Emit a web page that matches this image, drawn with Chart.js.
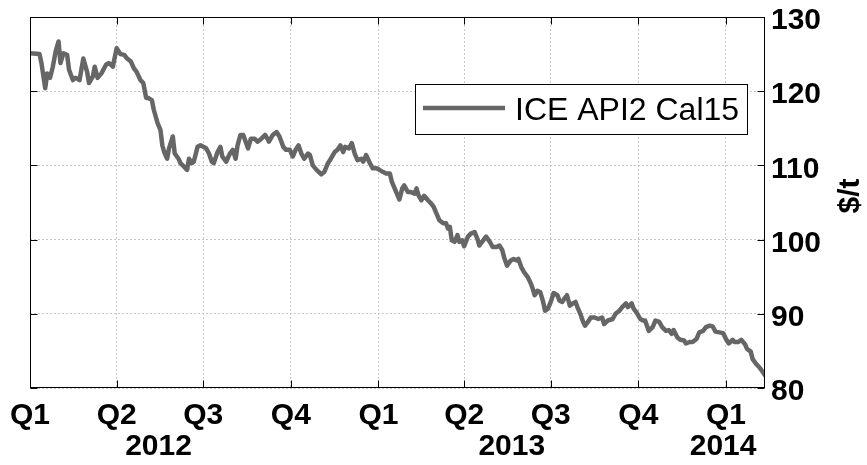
<!DOCTYPE html>
<html>
<head>
<meta charset="utf-8">
<script src="https://cdn.jsdelivr.net/npm/chart.js@4.4.1/dist/chart.umd.min.js"></script>
<style>
html,body{margin:0;padding:0;background:#fff;}
#wrap{width:867px;height:465px;}
</style>
</head>
<body>
<div id="wrap"><canvas id="c" width="867" height="465"></canvas></div>
<script>
// Days since 1 Jan 2012
const days = [0,10,12,16,18,21,24,27,30,32,35,39,41,45,48,52,56,60,62,66,68,71,75,80,83,87,91,95,99,102,106,109,112,116,119,122,124,128,130,134,137,139,141,144,146,150,152,156,158,162,165,167,170,172,176,179,185,188,191,193,197,200,202,206,210,213,216,218,221,224,229,232,236,239,243,247,251,255,259,262,266,269,273,276,279,282,285,288,292,294,297,301,306,309,313,316,320,323,326,329,331,335,338,341,344,348,350,353,357,360,364,367,371,374,378,380,383,386,388,391,393,397,400,404,406,408,411,414,418,421,424,427,430,434,437,439,441,443,446,449,451,454,456,460,463,467,470,472,476,479,483,486,490,493,496,498,501,505,508,511,513,516,519,523,526,528,530,533,536,539,541,544,547,550,554,556,559,561,564,567,570,573,575,578,581,583,586,589,593,597,601,603,607,612,615,619,622,626,628,632,634,637,641,644,646,650,654,657,661,664,668,671,674,676,680,683,687,689,693,696,700,703,707,710,714,717,720,724,728,731,734,738,740,744,747,751,753,757,759,763,766,770,772];
const prices = [125.1,125.0,123.8,120.4,122.4,121.8,123.3,125.4,126.7,123.8,125.1,124.9,122.9,121.5,121.8,121.5,124.4,122.6,121.1,122.0,123.3,121.8,122.4,123.6,123.8,123.3,125.8,125.0,124.9,124.4,124.0,123.1,122.6,121.5,121.1,119.1,119.1,118.8,117.5,115.7,114.8,112.7,111.8,110.9,112.3,113.9,111.6,110.9,110.3,109.8,109.4,110.9,110.3,110.5,112.5,112.7,112.3,111.6,110.5,110.3,111.8,112.5,111.2,110.5,111.6,112.1,110.9,112.7,114.1,114.1,112.3,113.6,113.6,113.2,113.6,114.1,113.2,114.1,114.5,113.9,112.5,112.1,112.1,111.2,112.1,112.7,111.6,110.9,111.6,111.4,110.0,109.4,108.8,109.1,110.3,110.9,111.8,112.1,112.7,111.8,112.5,112.3,113.0,111.6,110.7,110.9,110.5,111.4,110.3,109.6,109.6,109.4,109.1,108.9,108.9,107.8,106.9,106.0,105.4,106.9,107.3,106.4,106.4,106.2,106.9,106.0,105.3,105.9,105.3,104.9,104.4,103.5,102.6,102.2,102.2,101.5,101.7,99.9,99.7,100.6,99.7,99.9,99.1,100.4,100.8,101.0,100.1,99.2,99.9,100.4,99.7,99.0,99.0,99.2,98.6,97.6,96.5,97.2,97.4,97.2,97.4,96.3,95.6,94.9,94.1,93.4,92.5,93.1,92.9,91.6,90.4,90.7,91.6,92.8,92.5,91.8,91.6,92.0,92.5,91.1,91.4,91.6,90.9,90.0,88.9,88.4,88.9,89.5,89.5,89.3,89.5,88.6,89.1,89.3,90.0,90.4,90.9,91.4,90.9,91.4,90.7,90.2,89.3,89.1,89.1,87.7,88.2,89.1,88.9,88.2,87.7,87.8,87.3,87.8,86.8,86.5,86.4,86.0,86.2,86.2,86.6,87.5,87.7,88.2,88.4,88.3,87.6,87.5,87.4,86.6,86.0,86.5,86.2,86.2,86.5,85.9,85.3,84.9,83.9,83.2,82.8,82.1,81.7];
const seriesLabel = 'ICE API2 Cal15';
const quarterDays = [0,91,182,274,366,456,547,639,731];
const quarterLabels = ['Q1','Q2','Q3','Q4','Q1','Q2','Q3','Q4','Q1'];
const yearLabels = ['2012','2013','2014'];
const yearLabelDays = [135,506,728];
const xMax = 772;
const yTicks = [80,90,100,110,120,130];
const yTitle = '$/t';

const FONT = "'Liberation Sans', Arial, sans-serif";
const LINE_COLOR = 'rgb(102,102,102)';

const points = days.map((d,i)=>({x:d, y:prices[i]}));

const decor = {
  id:'decor',
  afterDraw(chart){
    const {ctx, chartArea:a, scales:{x,y}} = chart;
    ctx.save();
    // box
    ctx.strokeStyle='#000'; ctx.lineWidth=1;
    const L=Math.round(a.left)+0.5, R=Math.round(a.right)-0.5, T=Math.round(a.top)+0.5, B=Math.round(a.bottom)-0.5;
    ctx.strokeRect(L,T,R-L,B-T);
    // inward ticks
    ctx.beginPath();
    const tl=7;
    x.ticks.forEach(t=>{const px=Math.round(x.getPixelForValue(t.value))+0.5;
      ctx.moveTo(px,B); ctx.lineTo(px,B-tl); ctx.moveTo(px,T); ctx.lineTo(px,T+tl);});
    y.ticks.forEach(t=>{const py=Math.round(y.getPixelForValue(t.value))+0.5;
      ctx.moveTo(L,py); ctx.lineTo(L+tl,py); ctx.moveTo(R,py); ctx.lineTo(R-tl,py);});
    ctx.stroke();
    // year labels
    ctx.fillStyle='#000';
    ctx.font='bold 30px '+FONT;
    ctx.textAlign='center'; ctx.textBaseline='middle';
    yearLabels.forEach((lab,i)=>{ctx.fillText(lab, x.getPixelForValue(yearLabelDays[i]), 447);});
    // y title rotated
    ctx.save();
    ctx.translate(851,196);
    ctx.rotate(-Math.PI/2);
    ctx.fillText(yTitle,0,0);
    ctx.restore();
    // legend
    const bx=415.5, by=84.5, bw=332, bh=50;
    ctx.fillStyle='#fff';
    ctx.fillRect(bx,by,bw,bh);
    ctx.strokeStyle='#000'; ctx.lineWidth=1;
    ctx.strokeRect(bx,by,bw,bh);
    ctx.strokeStyle=LINE_COLOR; ctx.lineWidth=4.5;
    ctx.beginPath(); ctx.moveTo(423,108); ctx.lineTo(505,108); ctx.stroke();
    ctx.fillStyle='#000';
    ctx.font='32px '+FONT;
    ctx.textAlign='left'; ctx.textBaseline='middle';
    ctx.fillText(chart.data.datasets[0].label, 515, 111);
    ctx.restore();
  }
};

new Chart(document.getElementById('c'), {
  type:'line',
  data:{datasets:[{label:seriesLabel, data:points, borderColor:LINE_COLOR, borderWidth:4.5,
    pointRadius:0, tension:0, borderJoinStyle:'round', borderCapStyle:'round', fill:false}]},
  options:{
    responsive:false, animation:false, devicePixelRatio:1,
    layout:{padding:{left:30, top:17, right:0, bottom:0}},
    plugins:{legend:{display:false}, tooltip:{enabled:false}},
    scales:{
      x:{type:'linear', position:'bottom', min:0, max:xMax,
        afterBuildTicks(s){ s.ticks = quarterDays.map(v=>({value:v})); },
        afterFit(s){ s.height = 77; s.paddingLeft = 0; s.paddingRight = 0; },
        ticks:{autoSkip:false, maxRotation:0, padding:10, color:'#000',
          font:{family:FONT, size:30, weight:'bold'},
          callback(v){ const i=quarterDays.indexOf(v); return i>=0?quarterLabels[i]:''; }},
        grid:{color:'#c8c8c8', lineWidth:1, drawTicks:false},
        border:{display:false, dash:[2,2]}
      },
      y:{type:'linear', position:'right', min:80, max:130,
        afterBuildTicks(s){ s.ticks = yTicks.map(v=>({value:v})); },
        afterFit(s){ s.width = 102; s.paddingTop = 0; s.paddingBottom = 0; },
        ticks:{padding:6, labelOffset:4, color:'#000',
          font:{family:FONT, size:30, weight:'bold'}},
        grid:{color:'#c8c8c8', lineWidth:1, drawTicks:false},
        border:{display:false, dash:[2,2]}
      }
    }
  },
  plugins:[decor]
});
</script>
</body>
</html>
